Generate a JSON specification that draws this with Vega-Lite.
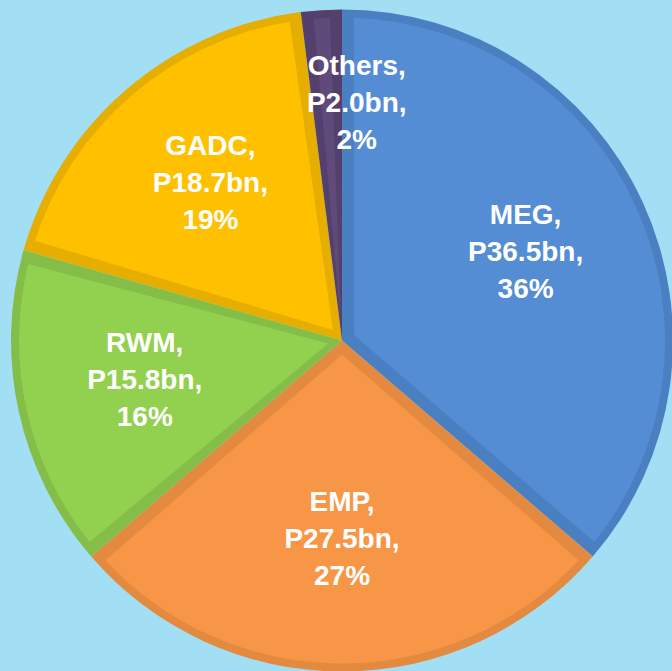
{
  "$schema": "https://vega.github.io/schema/vega-lite/v6.json",
  "autosize": {"type": "fit", "contains": "padding"},
  "width": 672,
  "height": 671,
  "padding": 0,
  "background": "#a2dff4",
  "config": {"view": {"stroke": null}},
  "data": {
    "values": [
      {"name": "MEG", "value": 36.5, "pct": 36, "order": 1},
      {"name": "EMP", "value": 27.5, "pct": 27, "order": 2},
      {"name": "RWM", "value": 15.8, "pct": 16, "order": 3},
      {"name": "GADC", "value": 18.7, "pct": 19, "order": 4},
      {"name": "Others", "value": 2.0, "pct": 2, "order": 5}
    ]
  },
  "transform": [
    {"calculate": "datum.name + ',\\nP' + format(datum.value, '.1f') + 'bn,\\n' + datum.pct + '%'", "as": "label"}
  ],
  "encoding": {
    "theta": {"field": "value", "type": "quantitative", "stack": true},
    "order": {"field": "order", "type": "quantitative"}
  },
  "resolve": {"scale": {"color": "independent"}},
  "layer": [
    {
      "mark": {"type": "arc", "outerRadius": 331, "xOffset": 7, "yOffset": 6},
      "encoding": {
        "color": {
          "field": "name", "type": "nominal", "legend": null,
          "scale": {"domain": ["MEG", "EMP", "RWM", "GADC", "Others"],
                    "range": ["#4a80c2", "#e38a40", "#84bd48", "#e6ae00", "#53406c"]}
        }
      }
    },
    {
      "mark": {"type": "arc", "outerRadius": 323, "innerRadius": 14, "padAngle": 0.075, "xOffset": 7, "yOffset": 6},
      "encoding": {
        "color": {
          "field": "name", "type": "nominal", "legend": null,
          "scale": {"domain": ["MEG", "EMP", "RWM", "GADC", "Others"],
                    "range": ["#548dd4", "#f79646", "#92d050", "#ffc000", "#604a7b"]}
        }
      }
    },
    {
      "transform": [{"filter": "datum.name != 'Others'"}],
      "mark": {"type": "text", "radius": 202, "xOffset": 7, "yOffset": 6, "dy": -40, "align": "center", "baseline": "middle",
               "lineBreak": "\n", "lineHeight": 37, "fontSize": 28, "fontWeight": "bold",
               "font": "Liberation Sans", "fill": "white"},
      "encoding": {"text": {"field": "label"}}
    },
    {
      "transform": [{"filter": "datum.name == 'Others'"}],
      "mark": {"type": "text", "radius": 236, "xOffset": 7, "yOffset": 6, "dy": -38, "align": "center", "baseline": "middle",
               "lineBreak": "\n", "lineHeight": 37, "fontSize": 28, "fontWeight": "bold",
               "font": "Liberation Sans", "fill": "white"},
      "encoding": {"text": {"field": "label"}}
    }
  ]
}
